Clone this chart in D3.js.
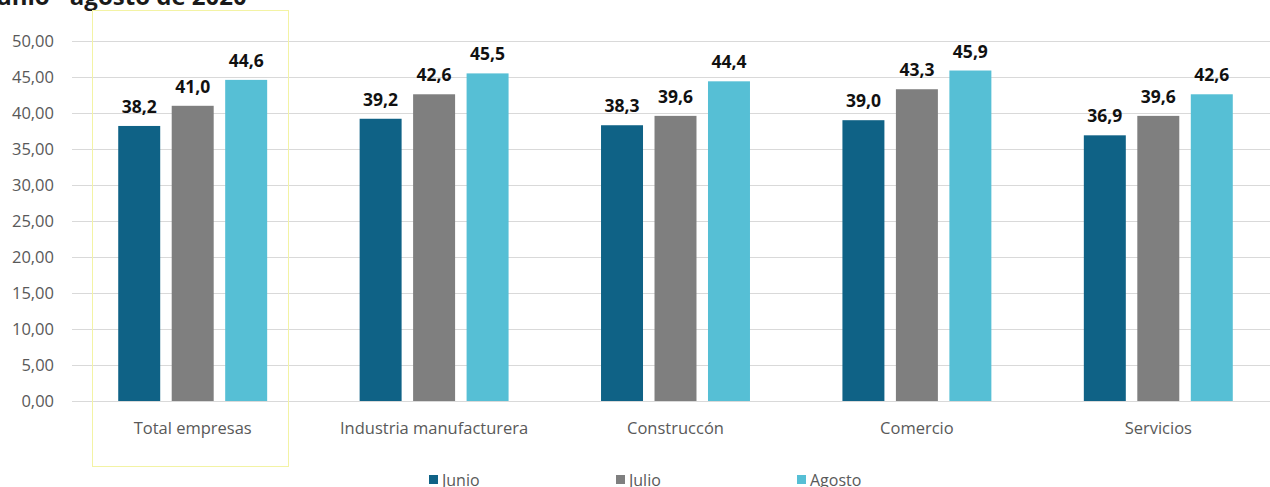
<!DOCTYPE html>
<html>
<head>
<meta charset="utf-8">
<script src="https://cdn.jsdelivr.net/npm/d3@7"></script>
<style>
  body { margin: 0; background: #fff; }
  svg { display: block; font-family: "Open Sans", "Noto Sans", sans-serif; }
</style>
</head>
<body>
<div id="chart"></div>
<script>
// Chart data
var categories = ["Total empresas", "Industria manufacturera", "Construccón", "Comercio", "Servicios"];
var seriesNames = ["Junio", "Julio", "Agosto"];
var junio = [38.2, 39.2, 38.3, 39.0, 36.9];
var julio = [41.0, 42.6, 39.6, 43.3, 39.6];
var agosto = [44.6, 45.5, 44.4, 45.9, 42.6];
var yTicks = [0, 5, 10, 15, 20, 25, 30, 35, 40, 45, 50];
var title = "Junio - agosto de 2020";

var seriesValues = [junio, julio, agosto];
var colors = ["#0f6286", "#7f7f7f", "#56bfd5"];

var width = 1270;
var height = 487;

var svg = d3.select("#chart")
    .append("svg")
    .attr("width", width)
    .attr("height", height);

// Scales
var x0 = d3.scaleBand()
    .domain(categories)
    .range([72, 1279])
    .paddingInner(0.383)
    .paddingOuter(0.1915);

var x1 = d3.scaleBand()
    .domain(seriesNames)
    .range([0, x0.bandwidth()])
    .paddingInner(0.215)
    .paddingOuter(0);

var y = d3.scaleLinear()
    .domain([0, 50])
    .range([401, 41]);

var fmtTick = function(d) { return d3.format(".2f")(d).replace(".", ","); };
var fmtLabel = function(d) { return d3.format(".1f")(d).replace(".", ","); };

// Title (cropped at the top in the original)
svg.append("text")
    .attr("x", -12)
    .attr("y", 5)
    .style("font-size", "24px")
    .style("font-weight", "bold")
    .style("fill", "#1a1a1a")
    .text(title);

// Gridlines
svg.append("g")
    .selectAll("line")
    .data(yTicks)
    .enter()
    .append("line")
    .attr("x1", 72)
    .attr("x2", width)
    .attr("y1", function(d) { return Math.round(y(d)) + 0.5; })
    .attr("y2", function(d) { return Math.round(y(d)) + 0.5; })
    .attr("stroke", "#d9d9d9")
    .attr("stroke-width", 1);

// Y axis labels
var yAxis = d3.axisLeft(y)
    .tickValues(yTicks)
    .tickFormat(fmtTick)
    .tickSize(0)
    .tickPadding(0);

var yG = svg.append("g")
    .attr("transform", "translate(54,0)")
    .call(yAxis);
yG.select(".domain").remove();
yG.selectAll("text")
    .style("font-size", "16.5px")
    .style("font-family", "\"Open Sans\", sans-serif")
    .style("fill", "#595959");

// Highlight box round the first category
svg.append("rect")
    .attr("x", 92.5)
    .attr("y", 10.5)
    .attr("width", 196)
    .attr("height", 456)
    .attr("fill", "none")
    .attr("stroke", "#f3f3a4")
    .attr("stroke-width", 1);

// Bars
var groups = svg.append("g")
    .selectAll("g")
    .data(categories)
    .enter()
    .append("g")
    .attr("transform", function(d) { return "translate(" + x0(d) + ",0)"; });

groups.selectAll("rect")
    .data(function(d, i) {
        return seriesNames.map(function(s, j) { return { series: s, value: seriesValues[j][i], idx: j }; });
    })
    .enter()
    .append("rect")
    .attr("x", function(d) { return x1(d.series); })
    .attr("y", function(d) { return y(d.value); })
    .attr("width", x1.bandwidth())
    .attr("height", function(d) { return y(0) - y(d.value); })
    .attr("fill", function(d) { return colors[d.idx]; });

// Data labels
groups.selectAll("text")
    .data(function(d, i) {
        return seriesNames.map(function(s, j) { return { series: s, value: seriesValues[j][i] }; });
    })
    .enter()
    .append("text")
    .attr("x", function(d) { return x1(d.series) + x1.bandwidth() / 2; })
    .attr("y", function(d) { return y(d.value) - 13; })
    .attr("text-anchor", "middle")
    .style("font-size", "17.5px")
    .style("font-weight", "bold")
    .style("fill", "#111")
    .text(function(d) { return fmtLabel(d.value); });

// Category labels
svg.append("g")
    .selectAll("text")
    .data(categories)
    .enter()
    .append("text")
    .attr("x", function(d) { return x0(d) + x0.bandwidth() / 2; })
    .attr("y", 434)
    .attr("text-anchor", "middle")
    .style("font-size", "16.5px")
    .style("fill", "#595959")
    .text(function(d) { return d; });

// Legend
var legendX = [429, 616, 797];
var legend = svg.append("g")
    .selectAll("g")
    .data(seriesNames)
    .enter()
    .append("g")
    .attr("transform", function(d, i) { return "translate(" + legendX[i] + ",0)"; });

legend.append("rect")
    .attr("x", 0)
    .attr("y", 475)
    .attr("width", 9)
    .attr("height", 9)
    .attr("fill", function(d, i) { return colors[i]; });

legend.append("text")
    .attr("x", 13)
    .attr("y", 486)
    .style("font-size", "16px")
    .style("fill", "#595959")
    .text(function(d) { return d; });
</script>
</body>
</html>
